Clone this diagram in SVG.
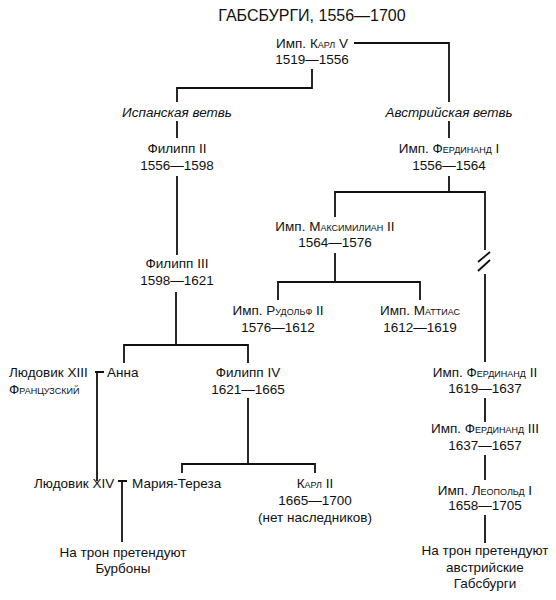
<svg xmlns="http://www.w3.org/2000/svg" width="556" height="600" viewBox="0 0 556 600">
<style>
text{font-family:"Liberation Sans",Arial,sans-serif;font-size:13.5px;fill:#111;text-anchor:middle}
.s{text-anchor:start}
.t{font-size:16px}
.i{font-style:italic}
.sc{font-variant:small-caps}
.c path{fill:none;stroke:#111;stroke-width:1.8}
</style>
<rect width="556" height="600" fill="#fff"/>
<text class="t" x="312" y="21">ГАБСБУРГИ, 1556—1700</text>
<g class="c" id="connectors">
<path d="M354 43H449V102"/>
<path d="M312 69V88H177V102"/>
<path d="M177 121V138"/>
<path d="M449 121V138"/>
<path d="M177 176V255"/>
<path d="M449 176V192M335 217V192H485V250"/>
<path d="M478 262L490 252M478 271L490 260"/>
<path d="M485 274V362"/>
<path d="M335 253V282M278 300V282H420V300"/>
<path d="M176 292V345M124 363V345H248V363"/>
<path d="M95 372H104M97 372V481"/>
<path d="M248 398V464M182 473V464H315V473"/>
<path d="M118 481H127M122 481V542"/>
<path d="M485 398V422M485 455V480M485 515V543"/>
</g>
<g id="karl5"><text x="312" y="48">Имп. <tspan class="sc">Карл</tspan> V</text><text x="312" y="64">1519—1556</text></g>
<g id="spain"><text class="i" x="177" y="117">Испанская ветвь</text></g>
<g id="austria"><text class="i" x="449" y="117">Австрийская ветвь</text></g>
<g id="filipp2"><text x="177" y="153">Филипп II</text><text x="177" y="170">1556—1598</text></g>
<g id="ferdinand1"><text x="449" y="153">Имп. <tspan class="sc">Фердинанд</tspan> I</text><text x="449" y="170">1556—1564</text></g>
<g id="maximilian2"><text x="335" y="231">Имп. <tspan class="sc">Максимилиан</tspan> II</text><text x="335" y="247">1564—1576</text></g>
<g id="filipp3"><text x="177" y="268">Филипп III</text><text x="177" y="285">1598—1621</text></g>
<g id="rudolf2"><text x="278" y="315">Имп. <tspan class="sc">Рудольф</tspan> II</text><text x="278" y="332">1576—1612</text></g>
<g id="matthias"><text x="420" y="315">Имп. <tspan class="sc">Маттиас</tspan></text><text x="420" y="332">1612—1619</text></g>
<g id="louis13"><text class="s" x="9" y="377">Людовик XIII</text><text class="s sc" x="9" y="394">Французский</text></g>
<g id="anna"><text class="s" x="107" y="377">Анна</text></g>
<g id="filipp4"><text x="248" y="377">Филипп IV</text><text x="248" y="394">1621—1665</text></g>
<g id="ferdinand2"><text x="485" y="377">Имп. <tspan class="sc">Фердинанд</tspan> II</text><text x="485" y="393">1619—1637</text></g>
<g id="ferdinand3"><text x="485" y="433">Имп. <tspan class="sc">Фердинанд</tspan> III</text><text x="485" y="450">1637—1657</text></g>
<g id="louis14"><text class="s" x="34" y="488">Людовик XIV</text></g>
<g id="mariatheresa"><text class="s" x="132" y="488">Мария-Тереза</text></g>
<g id="karl2"><text x="315" y="488"><tspan class="sc">Карл</tspan> II</text><text x="315" y="505">1665—1700</text><text x="315" y="522">(нет наследников)</text></g>
<g id="leopold1"><text x="485" y="495">Имп. <tspan class="sc">Леопольд</tspan> I</text><text x="485" y="510">1658—1705</text></g>
<g id="bourbons"><text x="123" y="557">На трон претендуют</text><text x="123" y="573">Бурбоны</text></g>
<g id="habsburgs"><text x="485" y="555">На трон претендуют</text><text x="485" y="572">австрийские</text><text x="485" y="588">Габсбурги</text></g>
</svg>
